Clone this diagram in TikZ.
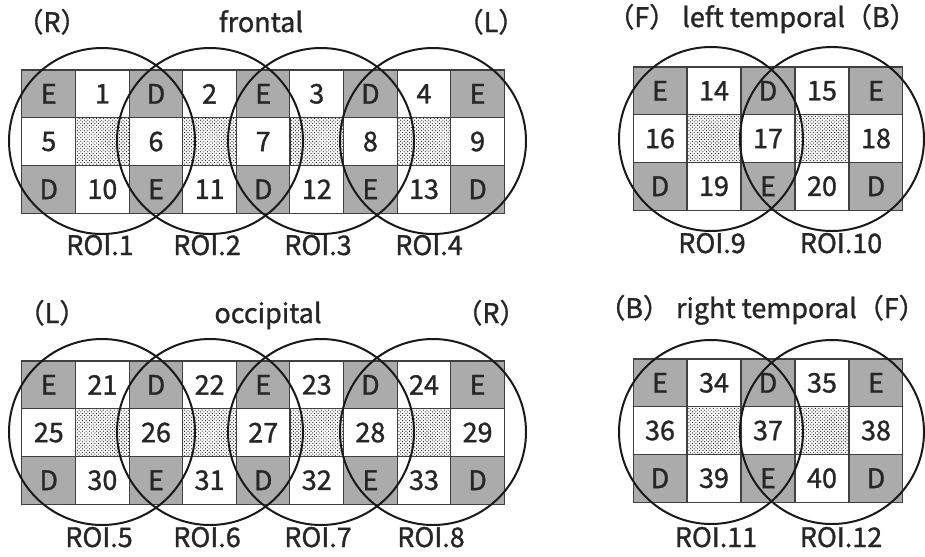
\documentclass[tikz,border=0pt]{standalone}
\usepackage{fontspec}
\setmainfont{Noto Sans CJK JP}[FakeBold=1.2]
\usetikzlibrary{patterns}

\tikzset{
  cell/.style={draw=black!75,line width=0.9pt,minimum width=1.61cm,minimum height=1.43cm,
    inner sep=0pt,text=black!85,font=\fontsize{23}{26}\selectfont},
  gcell/.style={cell,fill=black!33},
  wcell/.style={cell,fill=white},
  pcell/.style={cell,pattern=crosshatch dots,pattern color=black},
  roi/.style={line width=1.7pt,black!90},
  lab/.style={anchor=base,inner sep=1pt,text=black!85,font=\fontsize{23}{26}\selectfont},
}

\begin{document}
\begin{tikzpicture}[x=0.03cm,y=-0.03cm]
\useasboundingbox (0,0) rectangle (925,556);

% frontal
\foreach \row/\cells in {1/{E,1,D,2,E,3,D,4,E},2/{5,{},6,{},7,{},8,{},9},3/{D,10,E,11,D,12,E,13,D}}
  \foreach \t [count=\c] in \cells {
    \ifnum\row=2 \ifodd\c\relax\def\s{wcell}\else\def\s{pcell}\fi
    \else \ifodd\c\relax\def\s{gcell}\else\def\s{wcell}\fi\fi
    \node[\s] (fr-\row-\c) at ({22+(\c-0.5)*53.6},{70+(\row-0.5)*47.7}) {\t};
  }
% occipital
\foreach \row/\cells in {1/{E,21,D,22,E,23,D,24,E},2/{25,{},26,{},27,{},28,{},29},3/{D,30,E,31,D,32,E,33,D}}
  \foreach \t [count=\c] in \cells {
    \ifnum\row=2 \ifodd\c\relax\def\s{wcell}\else\def\s{pcell}\fi
    \else \ifodd\c\relax\def\s{gcell}\else\def\s{wcell}\fi\fi
    \node[\s] (oc-\row-\c) at ({22+(\c-0.5)*53.6},{361+(\row-0.5)*47.7}) {\t};
  }
% left temporal
\foreach \row/\cells in {1/{E,14,D,15,E},2/{16,{},17,{},18},3/{D,19,E,20,D}}
  \foreach \t [count=\c] in \cells {
    \ifnum\row=2 \ifodd\c\relax\def\s{wcell}\else\def\s{pcell}\fi
    \else \ifodd\c\relax\def\s{gcell}\else\def\s{wcell}\fi\fi
    \node[\s] (lt-\row-\c) at ({633+(\c-0.5)*54},{67+(\row-0.5)*47.7}) {\t};
  }
% right temporal
\foreach \row/\cells in {1/{E,34,D,35,E},2/{36,{},37,{},38},3/{D,39,E,40,D}}
  \foreach \t [count=\c] in \cells {
    \ifnum\row=2 \ifodd\c\relax\def\s{wcell}\else\def\s{pcell}\fi
    \else \ifodd\c\relax\def\s{gcell}\else\def\s{wcell}\fi\fi
    \node[\s] (rt-\row-\c) at ({633+(\c-0.5)*54},{359+(\row-0.5)*47.7}) {\t};
  }

% ROI circles
\foreach \x in {102,210,321,433} {
  \draw[roi] (\x,141) circle[radius=93];
  \draw[roi] (\x,432) circle[radius=93];
}
\draw[roi] (711,139) circle[radius=92];
\draw[roi] (832,139) circle[radius=92];
\draw[roi] (711,432) circle[radius=92];
\draw[roi] (832,432) circle[radius=92];

% titles
\node[lab] (frR) at (52,32) {（R）};
\node[lab] (frT) at (261,32) {frontal};
\node[lab] (frL) at (491,32) {（L）};
\node[lab] (ocL) at (52,323) {（L）};
\node[lab] (ocT) at (268,323) {occipital};
\node[lab] (ocR) at (491,323) {（R）};
\node[lab] (ltT) at (762,27) {（F） left temporal（B）};
\node[lab] (rtT) at (762,318) {（B） right temporal（F）};

% ROI labels
\node[lab] (roi1) at (100,255) {ROI.1};
\node[lab] (roi2) at (207,255) {ROI.2};
\node[lab] (roi3) at (318,255) {ROI.3};
\node[lab] (roi4) at (429,255) {ROI.4};
\node[lab] (roi5) at (99,547) {ROI.5};
\node[lab] (roi6) at (207,547) {ROI.6};
\node[lab] (roi7) at (318,547) {ROI.7};
\node[lab] (roi8) at (431,547) {ROI.8};
\node[lab] (roi9) at (712,253) {ROI.9};
\node[lab] (roi10) at (841,253) {ROI.10};
\node[lab] (roi11) at (716,547) {ROI.11};
\node[lab] (roi12) at (841,547) {ROI.12};
\end{tikzpicture}
\end{document}
